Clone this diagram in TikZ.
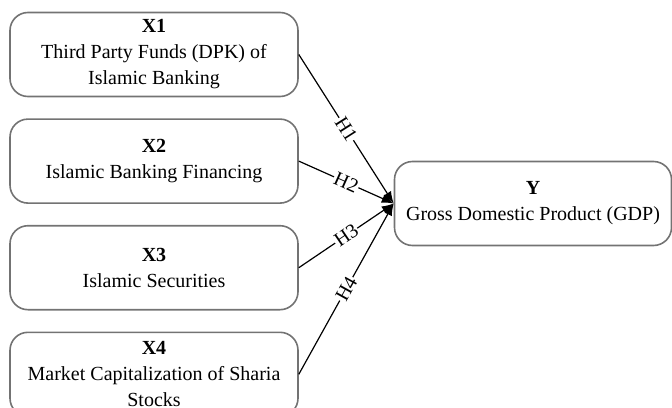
\documentclass[tikz,border=0pt]{standalone}
\usepackage{fontspec}
\setmainfont{Liberation Serif}
\usetikzlibrary{positioning, arrows.meta}

\begin{document}
\begin{tikzpicture}[x=1pt, y=-1pt, node distance=21pt, >={Latex[length=12pt,width=9pt]},
    varbox/.style={draw=black!55, line width=1.6pt, rounded corners=18pt, minimum width=288pt,
        minimum height=84pt, align=center, inner sep=2pt, font=\fontsize{20}{26}\selectfont},
    hyp/.style={sloped, fill=white, inner sep=1pt, font=\fontsize{20}{24}\selectfont}]
    \useasboundingbox (0,0) rectangle (672,407);

    % Independent variables
    \node[varbox] (x1) at (154,54.5) {\textbf{X1}\\Third Party Funds (DPK) of\\Islamic Banking};
    \node[varbox] (x2) [below=of x1] {\textbf{X2}\\Islamic Banking Financing};
    \node[varbox] (x3) [below=of x2] {\textbf{X3}\\Islamic Securities};
    \node[varbox] (x4) [below=of x3] {\textbf{X4}\\Market Capitalization of Sharia\\Stocks};

    % Dependent variable
    \node[varbox, minimum width=277pt] (y) at (533,203.5) {\textbf{Y}\\Gross Domestic Product (GDP)};

    % Hypotheses
    \path[->, line width=1.2pt]
        (x1.east) edge node[hyp] {H1} (y.west)
        (x2.east) edge node[hyp] {H2} (y.west)
        (x3.east) edge node[hyp] {H3} (y.west)
        (x4.east) edge node[hyp] {H4} (y.west);
\end{tikzpicture}
\end{document}
